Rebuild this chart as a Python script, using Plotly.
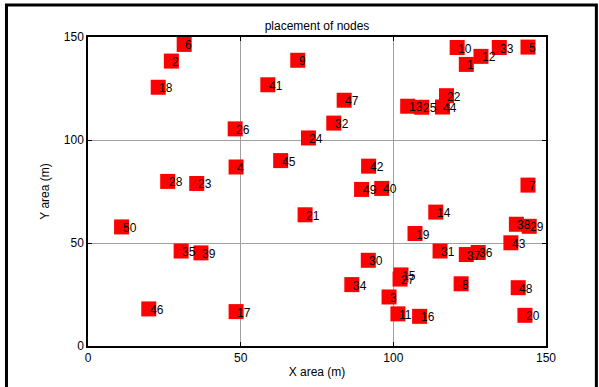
import plotly.graph_objects as go

node_ids = list(range(1, 51))
x_pos = [123.9, 27.3, 98.6, 48.5, 144.1, 31.5, 144.1, 122.2, 68.7, 120.9,
         101.5, 128.7, 104.7, 113.9, 102.5, 108.6, 48.5, 23.0, 107.1, 143.1,
         71.1, 117.4, 35.6, 72.2, 109.3, 48.2, 102.2, 26.1, 144.5, 91.8,
         115.3, 80.5, 134.7, 86.4, 30.5, 127.8, 123.9, 140.3, 37.0, 96.2,
         58.9, 91.9, 138.5, 116.1, 63.1, 19.9, 83.9, 140.9, 89.6, 11.0]
y_pos = [136.7, 138.3, 23.8, 86.9, 145.1, 146.4, 78.1, 30.2, 138.7, 144.9,
         15.6, 140.6, 116.4, 65.0, 34.5, 14.4, 16.7, 125.6, 54.6, 14.9,
         63.7, 121.5, 78.9, 101.0, 115.9, 105.4, 32.5, 79.9, 58.1, 41.6,
         46.1, 108.2, 144.9, 29.8, 46.1, 45.4, 44.4, 59.1, 45.2, 76.5,
         126.8, 87.3, 50.1, 116.0, 90.0, 18.0, 119.3, 28.3, 76.0, 57.8]
x_ticks = [0, 50, 100, 150]
y_ticks = [0, 50, 100, 150]

FONT = "Liberation Sans, Arial, sans-serif"

fig = go.Figure()
fig.add_trace(go.Scatter(
    x=x_pos, y=y_pos, mode="markers",
    marker=dict(symbol="square", size=15, color="#ff0000", line=dict(width=0)),
    hoverinfo="skip", showlegend=False, cliponaxis=False,
))

for n, xv, yv in zip(node_ids, x_pos, y_pos):
    fig.add_annotation(x=xv, y=yv, text=str(n), showarrow=False,
                       xanchor="left", yanchor="middle", xshift=-1, yshift=-1,
                       font=dict(family=FONT, size=12, color="black"))

# outer figure frame
fig.add_shape(type="rect", xref="paper", yref="paper",
              x0=-0.178, x1=1.11, y0=-0.3, y1=1.1036,
              line=dict(color="black", width=3), layer="above")

axis_common = dict(
    showline=True, linecolor="black", linewidth=1.5, mirror="ticks",
    ticks="inside", ticklen=4, tickcolor="black",
    showgrid=True, gridcolor="#a0a0a0", gridwidth=1,
    zeroline=False, automargin=False,
    tickfont=dict(family=FONT, size=12, color="black"),
)

fig.update_xaxes(range=[0, 150], tickvals=x_ticks, **axis_common,
                 title=dict(text="X area (m)", font=dict(family=FONT, size=12, color="black"), standoff=3))
fig.update_yaxes(range=[0, 150], tickvals=y_ticks, **axis_common,
                 title=dict(text="Y area (m)", font=dict(family=FONT, size=12, color="black"), standoff=12))

fig.update_layout(
    width=599, height=387,
    margin=dict(l=88, r=53, t=37, b=41),
    paper_bgcolor="white", plot_bgcolor="white",
    title=dict(text="placement of nodes", x=0.5, xanchor="center", xref="paper",
               y=0.934, yanchor="middle",
               font=dict(family=FONT, size=12, color="black")),
    showlegend=False,
)

fig.write_html("out.html", config={"displayModeBar": False},
               post_script="document.body.style.margin='0';document.body.style.overflow='hidden';")
